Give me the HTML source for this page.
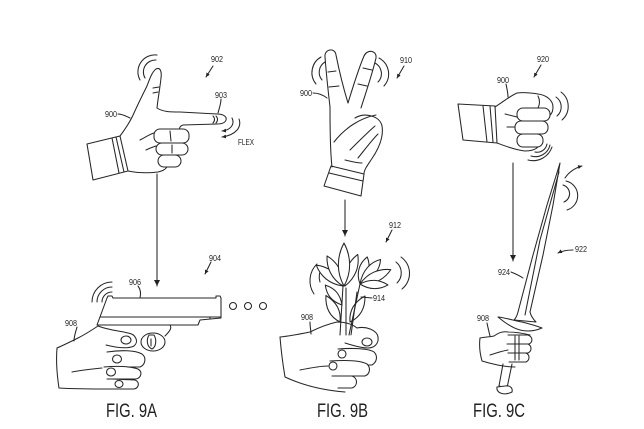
<!DOCTYPE html>
<html><head><meta charset="utf-8"><style>
html,body{margin:0;padding:0;background:#fff;}
svg{display:block;}
text{font-family:"Liberation Sans",sans-serif;fill:#222;}
</style></head><body>
<svg width="644" height="429" viewBox="0 0 644 429" xmlns="http://www.w3.org/2000/svg">
<defs>
<marker id="ah" markerWidth="8" markerHeight="8" refX="6" refY="3" orient="auto" markerUnits="userSpaceOnUse">
<path d="M0,0 L6,3 L0,6 Z" fill="#222"/>
</marker>
<marker id="ahs" markerWidth="6" markerHeight="6" refX="4" refY="2" orient="auto" markerUnits="userSpaceOnUse">
<path d="M0,0 L4,2 L0,4 Z" fill="#222"/>
</marker>
</defs>
<rect width="644" height="429" fill="#fff"/>
<g fill="none" stroke="#262626" stroke-width="1.05" stroke-linecap="round" stroke-linejoin="round">

<!-- ===== FIG 9A TOP HAND ===== -->
<path d="M87,144 L120,136 L128,171 L93,180 Z" fill="#fff"/>
<line x1="112" y1="138" x2="119" y2="173"/>
<line x1="116" y1="137" x2="124" y2="172"/>
<path d="M120,136 C126,128 131,120 134,113 C138,104 142,96 147,86 C150,78 152,72 156,69 C160,67 162,71 161,78 C160,88 158,98 157,108"/>
<line x1="153" y1="88" x2="159" y2="87"/>
<line x1="153" y1="93" x2="158" y2="92"/>
<path d="M157,108 C163,112 170,112 180,112 L217,114 C224,114 227,117 226,120 C225,123 222,124 217,124 L183,125 C180,126 179,128 180,130"/>
<path d="M213,116 C215,118 215,121 213,123"/>
<path d="M216,116 C218,118 218,121 216,123"/>
<rect x="154" y="129" width="35" height="14" rx="6" fill="#fff"/>
<rect x="156" y="143" width="32" height="12" rx="6" fill="#fff"/>
<rect x="158" y="155" width="23" height="12" rx="6" fill="#fff"/>
<line x1="170" y1="131" x2="171" y2="141"/>
<line x1="172" y1="145" x2="172" y2="153"/>
<path d="M128,171 C138,173 150,173 158,172 C162,171 165,170 167,167"/>
<path d="M140,140 C146,137 150,134 154,133"/>
<path d="M146,150 C150,148 153,147 156,146"/>
<path d="M156,60 A12,12 0 0,0 145,78"/>
<path d="M157,55 A17,17 0 0,0 140,80"/>
<path d="M232,118 C235,124 231,130 222,131" marker-end="url(#ahs)"/>
<path d="M239,119 C242,127 236,135 222,137" marker-end="url(#ahs)"/>
<path d="M118,114 C122,114 126,116 130,118"/>
<path d="M221,99 C221,104 219,109 218,113"/>
<path d="M213,66 L206,77" marker-end="url(#ahs)"/>
<line x1="157" y1="174" x2="157" y2="286" marker-end="url(#ah)"/>

<!-- ===== FIG 9A GUN ===== -->
<path d="M92,302 A20,20 0 0,1 112,282" />
<path d="M97,302 A15,15 0 0,1 112,287" />
<path d="M102,302 A10,10 0 0,1 112,292" />
<path d="M107,298 L108,296 L112,296 L113,298 L216,298 L216,296 L220,296 L221,298 L221,318 L200,320 L198,325 L97,325 Z" fill="#fff"/>
<line x1="100" y1="317" x2="221" y2="317"/>
<line x1="210" y1="319" x2="210" y2="317"/>
<ellipse cx="153" cy="342" rx="12" ry="9" fill="#fff"/>
<path d="M149,335 C146,340 147,347 152,349 C156,347 157,340 154,335 Z" fill="#fff"/>
<line x1="151" y1="339" x2="151" y2="346"/>
<path d="M165,336 C170,331 172,328 170,325"/>
<circle cx="233" cy="306" r="3.5"/>
<circle cx="248" cy="306" r="3.5"/>
<circle cx="263" cy="306" r="3.5"/>
<path d="M57,348 C64,345 72,341 78,338 C86,334 92,330 98,326" />
<path d="M57,348 C56,360 57,375 59,388 C75,389 95,389 112,389" />
<path d="M98,326 C108,330 120,331 128,333 C136,334 139,342 134,346 C128,349 118,348 106,345" fill="#fff"/>
<ellipse cx="126" cy="340" rx="5" ry="4"/>
<path d="M107,352 C120,350 135,350 142,354 C147,358 145,365 140,367 L110,367" fill="#fff"/>
<path d="M104,367 C115,366 130,366 138,369 C143,372 141,378 136,379 L107,379" fill="#fff"/>
<path d="M112,379 L135,380 C140,382 139,388 134,389 L112,389" fill="#fff"/>
<ellipse cx="117" cy="359" rx="4.5" ry="4"/>
<ellipse cx="111" cy="372" rx="4.5" ry="4"/>
<ellipse cx="119" cy="384" rx="4" ry="3.5"/>
<path d="M72,372 C82,370 92,369 102,368"/>
<path d="M74,341 C74,336 76,331 77,327"/>
<path d="M138,286 C141,290 141,294 140,298"/>
<path d="M211,262 L205,274" marker-end="url(#ahs)"/>

<!-- ===== FIG 9B TOP HAND ===== -->
<path d="M331,166 L364,174 L361,196 L324,186 Z" fill="#fff"/>
<line x1="329" y1="173" x2="363" y2="181"/>
<path d="M330,107 C328,90 326,70 325,57 C324,49 335,47 336,55 C339,70 344,90 348,103"/>
<path d="M348,103 C352,90 358,70 364,56 C367,49 377,50 376,58 C372,75 366,92 361,108"/>
<line x1="328" y1="72" x2="336" y2="71"/>
<line x1="329" y1="87" x2="339" y2="86"/>
<line x1="363" y1="68" x2="372" y2="70"/>
<line x1="358" y1="84" x2="367" y2="86"/>
<path d="M330,107 C330,125 330,150 332,167"/>
<path d="M355,118 C365,112 380,116 382,126 C384,138 378,150 371,160 C367,166 364,170 364,174"/>
<path d="M334,142 C345,128 360,118 376,115"/>
<path d="M350,150 C360,140 368,132 375,126"/>
<path d="M358,158 C366,148 372,140 378,134"/>
<path d="M345,160 C350,161 356,163 362,163"/>
<path d="M325,62 A12,12 0 0,0 322,80"/>
<path d="M321,57 A18,18 0 0,0 316,84"/>
<path d="M375,63 A12,12 0 0,1 378,82"/>
<path d="M379,58 A18,18 0 0,1 384,86"/>
<path d="M313,93 C318,93 323,95 327,98"/>
<path d="M404,66 L397,78" marker-end="url(#ahs)"/>
<line x1="345" y1="200" x2="345" y2="236" marker-end="url(#ah)"/>

<!-- ===== FIG 9B FLOWERS ===== -->
<path d="M320,282 A12,14 0 0,1 322,268" />
<path d="M314,294 A20,22 0 0,1 317,264" />
<path d="M396,262 A14,14 0 0,1 397,283" />
<path d="M401,257 A20,20 0 0,1 402,289" />
<g fill="#fff">
<path d="M0,0 C7,-10 6,-20 0,-30 C-6,-20 -7,-10 0,0 Z" transform="translate(340,322) rotate(-28)"/>
<path d="M0,0 C7,-10 6,-20 0,-30 C-6,-20 -7,-10 0,0 Z" transform="translate(350,322) rotate(30)"/>
<path d="M0,0 C6,-10 5,-18 0,-26 C-5,-18 -6,-10 0,0 Z" transform="translate(342,305) rotate(-40)"/>
<path d="M0,0 C7,-12 6,-24 0,-34 C-6,-24 -7,-12 0,0 Z" transform="translate(343,286) rotate(-52)"/>
<path d="M0,0 C7,-12 6,-24 0,-34 C-6,-24 -7,-12 0,0 Z" transform="translate(343,286) rotate(-28)"/>
<path d="M0,0 C7,-12 6,-24 0,-34 C-6,-24 -7,-12 0,0 Z" transform="translate(345,286) rotate(22)"/>
<path d="M0,0 C8,-14 7,-30 0,-43 C-7,-30 -8,-14 0,0 Z" transform="translate(344,286) rotate(0)"/>
<path d="M0,0 C7,-10 6,-20 0,-28 C-6,-20 -7,-10 0,0 Z" transform="translate(360,284) rotate(15)"/>
<path d="M0,0 C7,-12 6,-24 0,-32 C-6,-24 -7,-12 0,0 Z" transform="translate(360,284) rotate(40)"/>
<path d="M0,0 C7,-12 6,-24 0,-34 C-6,-24 -7,-12 0,0 Z" transform="translate(360,284) rotate(65)"/>
<path d="M0,0 C6,-10 5,-20 0,-28 C-5,-20 -6,-10 0,0 Z" transform="translate(360,284) rotate(92)"/>
</g>
<line x1="343" y1="286" x2="340" y2="335"/>
<line x1="346" y1="288" x2="346" y2="335"/>
<line x1="360" y1="284" x2="349" y2="335"/>
<line x1="357" y1="292" x2="351" y2="335"/>
<path d="M392,230 L386,242" marker-end="url(#ahs)"/>
<line x1="372" y1="298" x2="361" y2="297"/>
<path d="M280,337 C290,336 300,334 310,332 C318,328 328,324 337,322 C345,322 352,324 357,328"/>
<path d="M357,328 C366,326 377,330 378,337 C379,344 374,348 368,348 C360,348 352,345 345,343" fill="#fff"/>
<ellipse cx="367" cy="342" rx="5" ry="4"/>
<path d="M280,337 C281,350 283,365 285,377 C300,384 320,390 345,392"/>
<path d="M338,349 C350,348 368,348 374,352 C378,356 377,362 372,365 L340,365" fill="#fff"/>
<path d="M330,361 C345,360 360,360 367,364 C371,368 370,374 365,376 L332,376" fill="#fff"/>
<path d="M334,376 L352,376 C358,378 358,386 352,388 L338,388" fill="#fff"/>
<ellipse cx="342" cy="354" rx="4" ry="4"/>
<ellipse cx="333" cy="366" rx="4" ry="4"/>
<path d="M300,370 C310,368 320,366 328,366"/>
<path d="M310,322 C310,327 311,331 311,334"/>

<!-- ===== FIG 9C TOP FIST ===== -->
<path d="M458,104 L495,106 L497,143 L463,140 Z" fill="#fff"/>
<line x1="483" y1="106" x2="487" y2="142"/>
<line x1="490" y1="106" x2="493" y2="142"/>
<path d="M495,107 C503,102 510,96 517,93 C525,92 532,93 538,94 C546,95 553,100 553,107 C553,113 550,117 545,117"/>
<rect x="517" y="108" width="33" height="13" rx="6" fill="#fff"/>
<rect x="515" y="121" width="33" height="13" rx="6" fill="#fff"/>
<rect x="517" y="134" width="26" height="13" rx="6" fill="#fff"/>
<path d="M538,96 C540,100 540,104 538,108"/>
<path d="M497,143 C505,146 515,150 525,151 C532,151 536,149 538,147"/>
<path d="M505,114 C509,115 513,116 517,117"/>
<path d="M507,127 C510,127 513,127 515,127"/>
<path d="M556,97 A12,12 0 0,1 557,116"/>
<path d="M561,92 A18,18 0 0,1 562,120"/>
<path d="M547,144 A10,10 0 0,1 535,152"/>
<path d="M550,145 A15,15 0 0,1 531,156"/>
<path d="M552,147 A20,20 0 0,1 528,160"/>
<path d="M541,65 L534,77" marker-end="url(#ahs)"/>
<path d="M506,84 C507,89 508,93 508,97"/>
<line x1="513" y1="163" x2="513" y2="261" marker-end="url(#ah)"/>

<!-- ===== SWORD ===== -->
<path d="M560,163 L547,205 L533,255 L518,312 C517,316 516,318 514,320 L536,322 C533,319 531,316 530,312 L543,255 L553,205 Z" fill="#fff"/>
<path d="M559,172 L540,240 L525,315"/>
<path d="M498,317 C507,318 515,321 522,322 C530,324 537,326 542,328 C535,331 528,332 520,330 C512,328 504,322 498,317 Z" fill="#fff"/>
<path d="M565,178 C569,172 575,168 582,166" marker-end="url(#ahs)"/>
<path d="M563,185 A9,9 0 0,1 564,202"/>
<path d="M566,181 A15,15 0 0,1 567,210"/>
<path d="M573,250 C568,250 562,251 558,253" marker-end="url(#ahs)"/>
<path d="M511,272 C516,274 520,276 523,278"/>
<path d="M503,364 L499,386 L507,388 L512,364" fill="#fff"/>
<path d="M497,387 C496,393 504,396 512,392 C513,388 510,385 505,386 Z" fill="#fff"/>
<path d="M480,338 C485,337 490,337 494,336 C498,333 503,331 508,332 C515,332 522,333 530,335"/>
<path d="M480,338 C479,346 480,354 482,361 C492,364 503,367 515,367"/>
<path d="M508,335 L528,335 C533,337 533,342 529,344 L509,344" fill="#fff"/>
<path d="M507,344 L528,344 C532,346 532,351 528,353 L508,353" fill="#fff"/>
<path d="M508,353 L526,353 C530,355 530,360 526,362 L509,362" fill="#fff"/>
<line x1="515" y1="336" x2="515" y2="360"/>
<line x1="519" y1="336" x2="519" y2="360"/>
<path d="M490,355 C496,353 502,351 508,350"/>
<path d="M487,323 C488,328 489,332 490,336"/>
</g>

<!-- ===== LABELS ===== -->
<g font-size="8">
<text x="211" y="62" textLength="12" lengthAdjust="spacingAndGlyphs">902</text>
<text x="215" y="98" textLength="12" lengthAdjust="spacingAndGlyphs">903</text>
<text x="105" y="117" textLength="12" lengthAdjust="spacingAndGlyphs">900</text>
<text x="238" y="145" textLength="16" lengthAdjust="spacingAndGlyphs">FLEX</text>
<text x="209" y="261" textLength="12" lengthAdjust="spacingAndGlyphs">904</text>
<text x="129" y="285" textLength="12" lengthAdjust="spacingAndGlyphs">906</text>
<text x="65" y="326" textLength="12" lengthAdjust="spacingAndGlyphs">908</text>
<text x="400" y="63" textLength="12" lengthAdjust="spacingAndGlyphs">910</text>
<text x="300" y="96" textLength="12" lengthAdjust="spacingAndGlyphs">900</text>
<text x="389" y="228" textLength="12" lengthAdjust="spacingAndGlyphs">912</text>
<text x="373" y="301" textLength="12" lengthAdjust="spacingAndGlyphs">914</text>
<text x="301" y="320" textLength="12" lengthAdjust="spacingAndGlyphs">908</text>
<text x="537" y="62" textLength="12" lengthAdjust="spacingAndGlyphs">920</text>
<text x="497" y="83" textLength="12" lengthAdjust="spacingAndGlyphs">900</text>
<text x="575" y="252" textLength="12" lengthAdjust="spacingAndGlyphs">922</text>
<text x="498" y="275" textLength="12" lengthAdjust="spacingAndGlyphs">924</text>
<text x="477" y="321" textLength="12" lengthAdjust="spacingAndGlyphs">908</text>
</g>
<g font-size="19">
<text x="106" y="417" textLength="51" lengthAdjust="spacingAndGlyphs">FIG. 9A</text>
<text x="317" y="417" textLength="51" lengthAdjust="spacingAndGlyphs">FIG. 9B</text>
<text x="473" y="417" textLength="52" lengthAdjust="spacingAndGlyphs">FIG. 9C</text>
</g>
</svg>
</body></html>
